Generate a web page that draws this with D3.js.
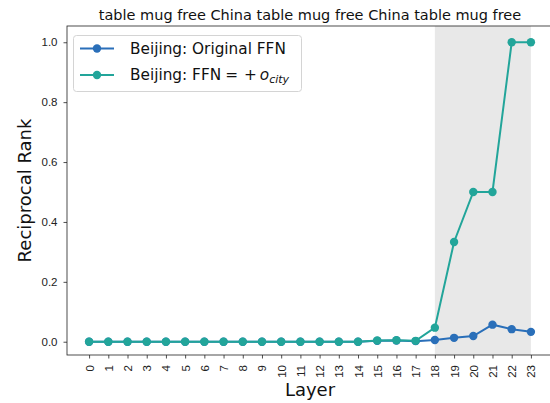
<!DOCTYPE html>
<html>
<head>
<meta charset="utf-8">
<script src="https://cdn.jsdelivr.net/npm/d3@7"></script>
<style>
  html, body { margin: 0; padding: 0; background: #fff; }
  svg { display: block; font-family: "DejaVu Sans", sans-serif; }
</style>
</head>
<body>
<svg id="chart" width="550" height="403"></svg>
<script>
// Reciprocal rank of the target per layer
const layers = d3.range(0, 24);
const originalFFN = [0, 0, 0, 0, 0, 0, 0, 0, 0, 0, 0, 0, 0, 0, 0, 0.003, 0.004, 0.002,
                     0.006, 0.013, 0.019, 0.057, 0.042, 0.033];
const patchedFFN  = [0, 0, 0, 0, 0, 0, 0, 0, 0, 0, 0, 0, 0, 0, 0, 0.004, 0.005, 0.003,
                     0.047, 0.333, 0.5, 0.5, 1.0, 1.0];
const yTicks = [0.0, 0.2, 0.4, 0.6, 0.8, 1.0];
const highlightRange = [18, 23];

const titleText = "table mug free China table mug free China table mug free";
const colors = { original: "#2a6fb9", patched: "#22a59a" };

const svg = d3.select("#chart");
const frame = { left: 67, right: 553, top: 26, bottom: 355 };

const x = d3.scaleLinear().domain([-1.15, 24.15]).range([frame.left, frame.right]);
const y = d3.scaleLinear().domain([-0.0443, 1.0543]).range([frame.bottom, frame.top]);

// shaded span for the last layers
svg.append("rect")
  .attr("x", x(highlightRange[0]))
  .attr("y", frame.top)
  .attr("width", x(highlightRange[1]) - x(highlightRange[0]))
  .attr("height", frame.bottom - frame.top)
  .attr("fill", "#e8e8e8");

// axes
const xAxis = d3.axisBottom(x).tickValues(layers).tickFormat(d3.format("d")).tickSize(3.5).tickPadding(2);
const gx = svg.append("g").attr("transform", `translate(0,${frame.bottom})`).call(xAxis);
gx.select(".domain").remove();
gx.selectAll("line").attr("stroke", "#222").attr("stroke-width", 0.8);
gx.selectAll("text")
  .attr("font-size", 11.5)
  .attr("fill", "#222")
  .attr("text-anchor", "end")
  .attr("dominant-baseline", "central")
  .attr("transform", "rotate(-90)")
  .attr("x", -10)
  .attr("y", 0)
  .attr("dy", null);

const yAxis = d3.axisLeft(y).tickValues(yTicks).tickFormat(d3.format(".1f")).tickSize(3.5).tickPadding(6);
const gy = svg.append("g").attr("transform", `translate(${frame.left},0)`).call(yAxis);
gy.select(".domain").remove();
gy.selectAll("line").attr("stroke", "#222").attr("stroke-width", 0.8);
gy.selectAll("text").attr("font-size", 11.5).attr("fill", "#222");

// frame
svg.append("rect")
  .attr("x", frame.left).attr("y", frame.top)
  .attr("width", frame.right - frame.left).attr("height", frame.bottom - frame.top)
  .attr("fill", "none").attr("stroke", "#222").attr("stroke-width", 0.8);

// series
const series = [
  { name: "original", values: originalFFN, color: colors.original },
  { name: "patched", values: patchedFFN, color: colors.patched }
];
const line = d3.line().x((d, i) => x(layers[i])).y(d => y(d));

series.forEach(s => {
  const g = svg.append("g");
  g.append("path")
    .attr("d", line(s.values))
    .attr("fill", "none")
    .attr("stroke", s.color)
    .attr("stroke-width", 2);
  g.selectAll("circle").data(s.values).join("circle")
    .attr("cx", (d, i) => x(layers[i]))
    .attr("cy", d => y(d))
    .attr("r", 4.2)
    .attr("fill", s.color);
});

// title and axis labels
svg.append("text")
  .attr("x", (frame.left + frame.right) / 2).attr("y", 20)
  .attr("text-anchor", "middle").attr("font-size", 14.5).attr("fill", "#111")
  .text(titleText);

svg.append("text")
  .attr("x", (frame.left + frame.right) / 2).attr("y", 396)
  .attr("text-anchor", "middle").attr("font-size", 18).attr("fill", "#111")
  .text("Layer");

svg.append("text")
  .attr("transform", `translate(24,${(frame.top + frame.bottom) / 2}) rotate(-90)`)
  .attr("text-anchor", "middle").attr("dominant-baseline", "central")
  .attr("font-size", 18).attr("fill", "#111")
  .text("Reciprocal Rank");

// legend
const legend = svg.append("g");
legend.append("rect")
  .attr("x", 73.5).attr("y", 35.5).attr("width", 228).attr("height", 56)
  .attr("rx", 3).attr("fill", "#fff").attr("fill-opacity", 0.8)
  .attr("stroke", "#d4d4d4").attr("stroke-width", 1);

const rows = [
  { color: colors.original, cy: 48.5 },
  { color: colors.patched, cy: 75 }
];
rows.forEach(r => {
  legend.append("line")
    .attr("x1", 80).attr("x2", 114).attr("y1", r.cy).attr("y2", r.cy)
    .attr("stroke", r.color).attr("stroke-width", 2);
  legend.append("circle").attr("cx", 97).attr("cy", r.cy).attr("r", 4.2).attr("fill", r.color);
});

legend.append("text")
  .attr("x", 130).attr("y", rows[0].cy).attr("dominant-baseline", "central")
  .attr("font-size", 15.3).attr("fill", "#111")
  .text("Beijing: Original FFN");

const t2 = legend.append("text")
  .attr("x", 130).attr("y", rows[1].cy).attr("dominant-baseline", "central")
  .attr("font-size", 15.3).attr("fill", "#111");
t2.append("tspan").text("Beijing: FFN");
t2.append("tspan").attr("dx", 4).text("=");
t2.append("tspan").attr("dx", 6).text("+");
t2.append("tspan").attr("dx", 3).attr("font-style", "italic").text("o");
t2.append("tspan").attr("font-style", "italic").attr("font-size", 11).attr("dy", 4).text("city");
</script>
</body>
</html>
